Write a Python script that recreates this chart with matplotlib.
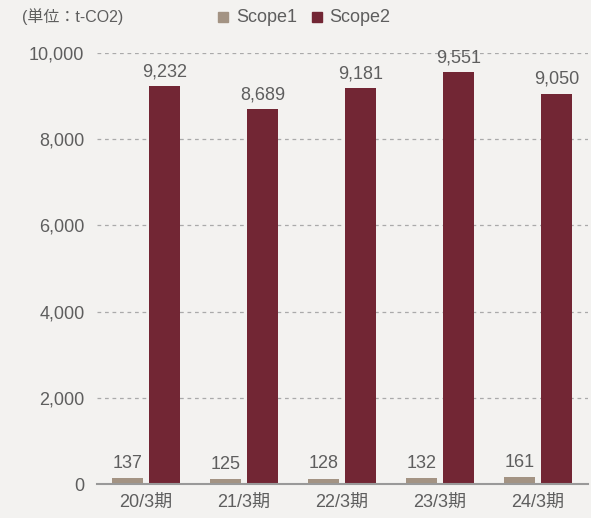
import numpy as np
import matplotlib.pyplot as plt
from matplotlib.patches import Rectangle

plt.rcParams['font.family'] = ['Liberation Sans', 'Noto Sans CJK JP', 'DejaVu Sans']

periods = ['20/3期', '21/3期', '22/3期', '23/3期', '24/3期']
scope1 = [137, 125, 128, 132, 161]
scope2 = [9232, 8689, 9181, 9551, 9050]
yticks = [0, 2000, 4000, 6000, 8000, 10000]

c1 = '#a39383'
c2 = '#722634'
txt = '#5e5e5e'
bg = '#f3f2f0'
fs = 13

fig = plt.figure(figsize=(5.91, 5.18), dpi=100, facecolor=bg)
ax = fig.add_axes([0.164, 0.0656, 0.831, 0.8321], facecolor=bg)

x = np.arange(len(periods))
w = 0.316
off = 0.189
b1 = ax.bar(x - off, scope1, width=w, color=c1, zorder=3)
b2 = ax.bar(x + off, scope2, width=w, color=c2, zorder=3)

for rect, v in zip(b1, scope1):
    ax.text(rect.get_x() + rect.get_width() / 2, v + 140, f'{v:,}',
            ha='center', va='bottom', fontsize=fs, color=txt, clip_on=False)
for rect, v in zip(b2, scope2):
    ax.text(rect.get_x() + rect.get_width() / 2, v + 140, f'{v:,}',
            ha='center', va='bottom', fontsize=fs, color=txt, clip_on=False)

ax.set_xlim(-0.5, 4.51)
ax.set_ylim(0, 10000)
ax.set_yticks(yticks)
ax.set_yticklabels([f'{t:,}' for t in yticks])
ax.set_xticks(x)
ax.set_xticklabels(periods)
ax.tick_params(axis='both', length=0, labelsize=fs, labelcolor=txt)
ax.tick_params(axis='y', pad=9)
ax.tick_params(axis='x', pad=7)
ax.yaxis.grid(True, linestyle=(0, (3, 3)), color='#aaaaaa', linewidth=0.9, zorder=0)
for s in ['top', 'right', 'left']:
    ax.spines[s].set_visible(False)
ax.spines['bottom'].set_color('#999999')
ax.spines['bottom'].set_linewidth(1.5)
ax.spines['bottom'].set_zorder(4)

fig.text(22 / 591, 1 - 17 / 518, '(単位：t-CO2)', fontsize=11.5, color=txt, va='center', ha='left')
fig.patches.append(Rectangle((218 / 591, 1 - 22 / 518), 10 / 591, 10 / 518,
                             transform=fig.transFigure, color=c1))
fig.text(236 / 591, 1 - 17 / 518, 'Scope1', fontsize=fs, color=txt, va='center', ha='left')
fig.patches.append(Rectangle((312 / 591, 1 - 22 / 518), 10 / 591, 10 / 518,
                             transform=fig.transFigure, color=c2))
fig.text(329 / 591, 1 - 17 / 518, 'Scope2', fontsize=fs, color=txt, va='center', ha='left')

fig.savefig('out.png', dpi=100, facecolor=bg)
